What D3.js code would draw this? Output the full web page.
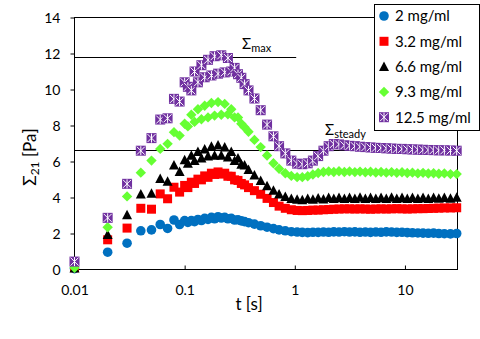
<!DOCTYPE html>
<html><head><meta charset="utf-8">
<script src="https://cdnjs.cloudflare.com/ajax/libs/d3/7.8.5/d3.min.js"></script>
<style>
html,body{margin:0;padding:0;background:#fff;}
svg{display:block;}
text{font-family:Lato,"Open Sans",sans-serif;fill:#000;}
</style></head>
<body><svg id="c" width="480" height="339"></svg>
<script>
// ---- data ----
const times = [0.01,0.02,0.03,0.04,0.05,0.06,0.07,0.08,0.09,0.1,
  0.107,0.115,0.123,0.132,0.142,0.152,0.163,0.175,0.187,0.201,0.215,0.231,0.247,0.265,0.284,0.305,0.327,0.35,
  0.38,0.43,0.49,0.56,0.64,0.72,0.82,0.93,1.05,
  1.17,1.31,1.46,1.63,1.82,2.03,2.26,2.52,2.82,3.14,3.51,3.91,4.37,4.87,5.44,6.07,6.77,7.56,8.43,9.41,10.5,11.7,13.1,14.6,16.3,18.2,20.3,22.8,25.9,29.5];

const conc2 = [0.05,0.96,1.46,2.15,2.2,2.5,2.28,2.75,2.5,2.72,
  2.62,2.72,2.66,2.78,2.72,2.84,2.78,2.9,2.82,2.93,2.86,2.9,2.82,2.84,2.75,2.76,2.7,2.66,
  2.6,2.52,2.43,2.35,2.27,2.2,2.15,2.1,2.08,
  2.06,2.05,2.07,2.06,2.08,2.07,2.09,2.08,2.1,2.08,2.09,2.07,2.08,2.06,2.08,2.07,2.09,2.08,2.06,2.07,2.05,2.04,2.03,2.02,2.01,2.02,2.0,1.99,1.98,2.0];

const conc32 = [0.1,1.65,2.3,3.4,3.35,4.2,3.93,4.57,4.3,4.67,
  4.55,4.85,4.78,5.02,4.98,5.2,5.12,5.35,5.28,5.42,5.3,5.35,5.18,5.18,4.98,4.95,4.78,4.7,
  4.55,4.38,4.18,3.95,3.72,3.52,3.4,3.32,3.28,
  3.27,3.28,3.3,3.3,3.32,3.33,3.35,3.36,3.37,3.37,3.36,3.37,3.36,3.35,3.36,3.37,3.36,3.37,3.38,3.37,3.36,3.37,3.38,3.38,3.39,3.4,3.41,3.42,3.42,3.43];

const conc66 = [0.08,1.94,3.04,4.2,4.24,5.05,4.9,5.8,5.45,6.1,
  5.9,6.35,6.05,6.55,6.2,6.7,6.3,6.85,6.35,6.92,6.35,6.8,6.25,6.55,6.05,6.2,5.85,5.8,
  5.55,5.25,4.95,4.65,4.4,4.2,4.05,3.95,3.9,
  3.88,3.95,3.9,3.97,3.92,4.0,3.94,4.0,3.94,4.0,3.95,4.01,3.95,4.0,3.94,4.0,3.95,4.01,3.95,4.0,3.95,4.0,3.95,4.0,3.95,4.0,3.96,4.0,3.96,4.02];

const conc93 = [0.1,2.35,4.06,5.38,6.05,6.7,6.98,7.63,7.44,8.1,
  7.95,8.6,8.2,8.9,8.35,9.1,8.45,9.25,8.55,9.3,8.6,9.2,8.62,8.9,8.45,8.45,8.1,7.9,
  7.65,7.2,6.8,6.33,5.9,5.6,5.35,5.2,5.13,
  5.13,5.18,5.28,5.36,5.42,5.45,5.42,5.46,5.42,5.45,5.41,5.44,5.4,5.43,5.39,5.42,5.38,5.41,5.37,5.4,5.36,5.38,5.34,5.37,5.33,5.35,5.32,5.34,5.3,5.3];

const conc125 = [0.44,2.87,4.76,6.6,7.3,8.33,8.4,9.48,9.33,10.4,
  10.15,9.95,11.0,10.4,11.35,10.68,11.65,10.78,11.85,10.88,11.9,10.95,11.75,11.0,11.2,10.85,10.65,10.3,
  9.95,9.5,8.85,8.05,7.4,6.85,6.45,6.05,5.88,
  5.85,5.9,6.05,6.3,6.6,6.85,6.97,6.95,6.9,6.87,6.85,6.82,6.8,6.78,6.76,6.75,6.73,6.72,6.7,6.7,6.68,6.67,6.66,6.65,6.64,6.63,6.62,6.62,6.61,6.6];

const seriesNames = ["2 mg/ml","3.2 mg/ml","6.6 mg/ml","9.3 mg/ml","12.5 mg/ml"];
const seriesColors = ["#0070C0","#FF0000","#000000","#66FF33","#7030A0"];
const seriesShapes = ["circle","square","triangle","diamond","star"];
const seriesValues = [conc2, conc32, conc66, conc93, conc125];

const yTicks = [0,2,4,6,8,10,12,14];
const xTicks = [0.01,0.1,1,10];
const xTickLabels = ["0.01","0.1","1","10"];

const sigmaMax = 11.8, sigmaMaxEnd = 1.03;
const sigmaSteady = 6.65;

// ---- chart ----
const svg = d3.select("#c");
const x = d3.scaleLog().domain([0.01,30]).range([74.5,457.5]);
const y = d3.scaleLinear().domain([0,14]).range([269.5,17.5]);

// axes
const yAxis = d3.axisLeft(y).tickValues(yTicks).tickSize(4).tickSizeOuter(0).tickFormat(d3.format("d"));
const gy = svg.append("g").attr("transform","translate(74.5,0)").call(yAxis);
gy.select(".domain").remove();
gy.selectAll(".tick line").attr("stroke","#000");
gy.selectAll(".tick text").attr("x",-14).attr("dy","0.36em").style("font-size","14px");

const xAxis = d3.axisBottom(x).tickValues(xTicks).tickSize(-4).tickSizeOuter(0)
  .tickFormat((d,i)=>xTickLabels[i]);
const gx = svg.append("g").attr("transform","translate(0,269.5)").call(xAxis);
gx.select(".domain").remove();
gx.selectAll(".tick line").attr("stroke","#000");
gx.selectAll(".tick text").attr("y",25).attr("dy","0").style("font-size","14px");

// frame
svg.append("rect").attr("x",74.5).attr("y",17.5).attr("width",383).attr("height",252)
  .attr("fill","none").attr("stroke","#000").attr("stroke-width",1);

// reference lines
svg.append("line").attr("x1",x(0.01)).attr("x2",x(sigmaMaxEnd))
  .attr("y1",Math.round(y(sigmaMax))+0.5).attr("y2",Math.round(y(sigmaMax))+0.5)
  .attr("stroke","#000").attr("stroke-width",1);
svg.append("line").attr("x1",x(0.01)).attr("x2",x(30))
  .attr("y1",Math.round(y(sigmaSteady))+0.5).attr("y2",Math.round(y(sigmaSteady))+0.5)
  .attr("stroke","#000").attr("stroke-width",1);

// markers
function drawMarker(g, shape, color){
  if(shape==="circle"){
    g.append("circle").attr("r",4.8).attr("fill",color);
  } else if(shape==="square"){
    g.append("rect").attr("x",-4.5).attr("y",-4.5).attr("width",9).attr("height",9).attr("fill",color);
  } else if(shape==="triangle"){
    g.append("path").attr("d","M0,-5L5,4.5L-5,4.5Z").attr("fill",color);
  } else if(shape==="diamond"){
    g.append("path").attr("d","M0,-5.2L5.2,0L0,5.2L-5.2,0Z").attr("fill",color);
  } else if(shape==="star"){
    g.append("rect").attr("x",-5).attr("y",-5).attr("width",10).attr("height",10).attr("fill",color);
    g.append("path").attr("d","M-4,-4L4,4M-4,4L4,-4M0,-4.5L0,4.5")
      .attr("stroke","#fff").attr("stroke-width",1).attr("fill","none");
  }
}

seriesValues.forEach((vals,si)=>{
  const g = svg.append("g");
  vals.forEach((v,i)=>{
    const m = g.append("g").attr("transform",`translate(${x(times[i])},${y(v)})`);
    drawMarker(m, seriesShapes[si], seriesColors[si]);
  });
});

// annotations
const a1 = svg.append("text").attr("x",242).attr("y",49).style("font-size","15px");
a1.append("tspan").text("Σ");
a1.append("tspan").attr("dy",3).style("font-size","11px").text("max");
const a2 = svg.append("text").attr("x",325).attr("y",135).style("font-size","15px");
a2.append("tspan").text("Σ");
a2.append("tspan").attr("dy",3).style("font-size","11px").text("steady");

// axis titles
svg.append("text").attr("x",249).attr("y",310).attr("text-anchor","middle")
  .style("font-size","17px").text("t [s]");
const yt = svg.append("text").attr("transform","translate(36,157) rotate(-90)")
  .attr("text-anchor","middle").style("font-size","17px");
yt.append("tspan").text("Σ");
yt.append("tspan").attr("dy",3).style("font-size","12px").text("21");
yt.append("tspan").attr("dy",-3).text(" [Pa]");

// legend
const lg = svg.append("g");
lg.append("rect").attr("x",374.5).attr("y",4.5).attr("width",105).attr("height",126)
  .attr("fill","#fff").attr("stroke","#000").attr("stroke-width",1);
seriesNames.forEach((name,i)=>{
  const cy = 16 + i*25.3;
  const m = lg.append("g").attr("transform",`translate(384,${cy})`);
  drawMarker(m, seriesShapes[i], seriesColors[i]);
  lg.append("text").attr("x",395).attr("y",cy).attr("dy","0.36em")
    .style("font-size","15px").text(name);
});
</script></body></html>
